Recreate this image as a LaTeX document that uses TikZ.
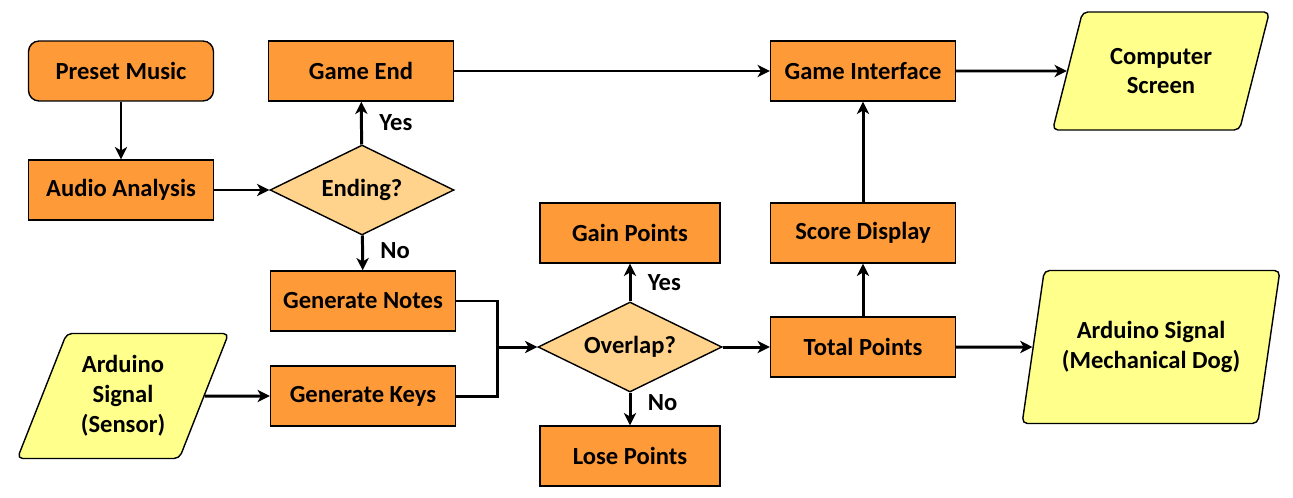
\documentclass[tikz,border=0pt]{standalone}
\usepackage{fontspec}
\setmainfont{Carlito}
\usetikzlibrary{shapes.geometric,arrows.meta}

\definecolor{procorange}{RGB}{255,154,56}
\definecolor{decidefill}{RGB}{255,211,140}
\definecolor{ioyellow}{RGB}{255,255,140}

\tikzset{
  proc/.style={draw, fill=procorange, line width=0.8pt, minimum width=3.7cm, minimum height=1.2cm, inner sep=2pt},
  decide/.style={diamond, aspect=2, draw, fill=decidefill, line width=0.8pt, minimum width=3.68cm, minimum height=1.8cm, inner sep=0pt},
  io/.style={trapezium, trapezium stretches=true, trapezium left angle=#1, trapezium right angle=180-#1,
    draw, fill=ioyellow, line width=0.8pt, rounded corners=3pt, align=center, inner sep=1pt},
  flow/.style={line width=1.7pt, -{Stealth[length=7pt, width=7pt, inset=2pt]}},
  plain/.style={line width=1.7pt},
  answer/.style={font=\fontsize{14}{16}\selectfont\bfseries}
}

\begin{document}
\begin{tikzpicture}[x=0.02cm, y=-0.02cm, every node/.append style={font=\fontsize{14}{17}\selectfont\bfseries}]

\useasboundingbox (0,0) rectangle (1293,497);

% left column
\node[proc, rounded corners=6pt] (preset) at (121,71) {Preset Music};
\node[proc] (audio) at (121,190) {Audio Analysis};
\node[io=65.5, minimum width=4.26cm, minimum height=2.5cm] (sensor) at (123,396) {Arduino\\Signal\\(Sensor)};

% game logic
\node[proc] (gameend) at (361,71) {Game End};
\node[decide] (ending) at (362,190) {Ending?};
\node[proc] (notes) at (363,301) {Generate Notes};
\node[proc] (keys) at (363,396) {Generate Keys};

\node[decide] (overlap) at (630,347) {Overlap?};
\node[proc, minimum width=3.6cm] (gain) at (630,233) {Gain Points};
\node[proc, minimum width=3.6cm] (lose) at (630,456) {Lose Points};

% scoring and output
\node[proc] (total) at (863,347) {Total Points};
\node[proc] (score) at (863,233) {Score Display};
\node[proc] (interface) at (863,71) {Game Interface};
\node[io=68, minimum width=4.36cm, minimum height=2.36cm] (screen) at (1161,71) {Computer\\Screen};
\node[io=71, minimum width=5.16cm, minimum height=3.06cm] (dog) at (1151,347) {Arduino Signal\\(Mechanical Dog)};

\coordinate (join) at (497,347);

% connectors
\draw[flow] (preset) -- (audio);
\draw[flow] (audio) -- (ending);
\draw[flow] (ending) -- (gameend) node[midway, right=6pt, answer] {Yes};
\draw[flow] (ending) -- (notes) node[pos=0.42, right=6pt, answer] {No};
\draw[flow] (gameend) -- (interface);
\draw[flow] (interface) -- (screen);
\draw[flow] (sensor) -- (keys);

\draw[plain] (notes.east) -| (join);
\draw[plain] (keys.east) -| (join);
\draw[flow] (join) -- (overlap);

\draw[flow] (overlap) -- (gain) node[midway, right=6pt, answer] {Yes};
\draw[flow] (overlap) -- (lose) node[pos=0.3, right=6pt, answer] {No};
\draw[flow] (overlap) -- (total);
\draw[flow] (total) -- (score);
\draw[flow] (score) -- (interface);
\draw[flow] (total) -- (dog);

\end{tikzpicture}
\end{document}
